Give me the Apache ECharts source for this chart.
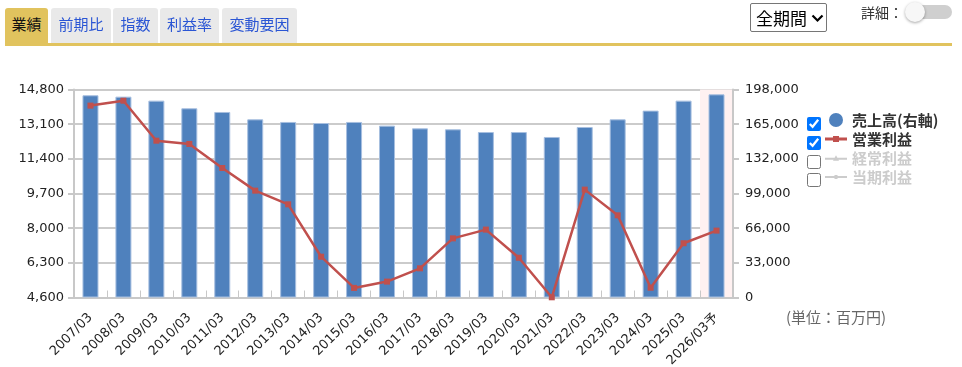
<!DOCTYPE html>
<html><head><meta charset="utf-8">
<script src="https://cdn.jsdelivr.net/npm/echarts@6/dist/echarts.min.js"></script>
<style>
body{margin:0;width:962px;height:367px;overflow:hidden;background:#fff;font-family:"Noto Sans CJK JP",sans-serif;position:relative}
#chart{position:absolute;left:0;top:0;width:962px;height:367px}
.tab{position:absolute;top:8px;height:35px;background:#e9e9e9;color:#2a55d4;font-size:15px;line-height:32px;text-align:center;border-radius:3px 3px 0 0;z-index:2}
.tab.active{background:#e1c35e;color:#111}
#uline{position:absolute;left:5px;top:43px;width:947px;height:3px;background:#e1c35e;z-index:2}
#sel{position:absolute;left:750px;top:3px;width:75px;height:27px;border:1px solid #767676;border-radius:2px;font-size:17px;line-height:27px;color:#000;z-index:2;box-sizing:content-box}
#sel span{position:absolute;left:5px;top:0}
#sel svg{position:absolute;left:60px;top:10px}
#det{position:absolute;left:861px;top:2px;font-size:14px;color:#333;z-index:2}
#track{position:absolute;left:910px;top:5px;width:42px;height:14px;border-radius:7px;background:#cfcfcf;z-index:2}
#knob{position:absolute;left:905px;top:2px;width:20px;height:20px;border-radius:50%;background:#f7f7f7;box-shadow:0 1px 3px rgba(0,0,0,.35);z-index:3}
.cb{position:absolute;left:807px;width:14px;height:14px;margin:0;z-index:3}
#unit{position:absolute;left:786px;top:306px;font-size:15px;color:#666;z-index:2}
</style>
</head><body>
<div id="chart"></div>
<div class="tab active" style="left:5px;width:43px">業績</div>
<div class="tab" style="left:51px;width:60px">前期比</div>
<div class="tab" style="left:113px;width:45px">指数</div>
<div class="tab" style="left:160px;width:59px">利益率</div>
<div class="tab" style="left:222px;width:75px">変動要因</div>
<div id="uline"></div>
<div id="sel"><span>全期間</span><svg width="13" height="9" viewBox="0 0 13 9"><path d="M1.5 1.5 L6.5 6.5 L11.5 1.5" fill="none" stroke="#000" stroke-width="2.2"/></svg></div>
<div id="det">詳細：</div>
<div id="track"></div><div id="knob"></div>
<input type="checkbox" class="cb" style="top:117px" checked>
<input type="checkbox" class="cb" style="top:136px" checked>
<input type="checkbox" class="cb" style="top:155px">
<input type="checkbox" class="cb" style="top:173px">
<div id="unit">(単位：百万円)</div>
<script>
const categories = ['2007/03','2008/03','2009/03','2010/03','2011/03','2012/03','2013/03','2014/03','2015/03','2016/03','2017/03','2018/03','2019/03','2020/03','2021/03','2022/03','2023/03','2024/03','2025/03','2026/03予'];
// 売上高 (right axis, 百万円)
const salesValues = [192500,191200,187400,180100,176600,169600,167100,166100,167100,163600,161000,160100,157500,157500,152800,162300,169600,177900,187400,193400];
// 営業利益 (left axis, 百万円)
const operatingProfit = [14010,14250,12290,12130,10950,9840,9170,6600,5070,5380,6030,7500,7930,6550,4610,9890,8630,5080,7260,7880];
const ordinaryProfit = [];
const netProfit = [];
const leftTicks = [4600,6300,8000,9700,11400,13100,14800];
const rightTicks = [0,33000,66000,99000,132000,165000,198000];

const fmt = v => v.toLocaleString('en-US');
const lastIdx = categories.length - 1;
const chart = echarts.init(document.getElementById('chart'));
chart.setOption({
  animation:false,
  grid:{left:74,right:229,top:89.5,bottom:69.5,containLabel:false,outerBoundsMode:'none'},
  legend:{
    orient:'vertical',left:820,top:107.5,itemWidth:22,itemHeight:14,itemGap:4,
    textStyle:{fontSize:15,fontWeight:'bold',color:'#333',fontFamily:'Noto Sans CJK JP'},
    inactiveColor:'#ccc',
    selected:{'経常利益':false,'当期利益':false},
    data:[
      {name:'売上高(右軸)',icon:'circle',itemStyle:{borderWidth:0}},
      {name:'営業利益',icon:'path://M0,3.5h22v3h-22z M8,2h6v6h-6z'},
      {name:'経常利益',icon:'path://M0,4h22v2h-22z M11,1.5l3,5.5h-6z'},
      {name:'当期利益',icon:'path://M0,4h22v2h-22z M9.5,3h3v4h-3z'}
    ]
  },
  xAxis:{
    type:'category',data:categories,
    axisLine:{lineStyle:{color:'#c8c8c8',width:2}},
    axisTick:{show:true,inside:true,length:7,interval:0,lineStyle:{color:'#c8c8c8'}},
    axisLabel:{rotate:45,interval:0,margin:18,fontSize:13,color:'#222',fontFamily:'DejaVu Sans, Noto Sans CJK JP'},
    splitArea:{show:true,interval:0,areaStyle:{color:categories.map((c,i)=> i===lastIdx ? '#fff1f1' : 'rgba(255,255,255,0)')}}
  },
  yAxis:[
    {type:'value',min:leftTicks[0],max:leftTicks[leftTicks.length-1],interval:leftTicks[1]-leftTicks[0],
     axisLine:{show:true,lineStyle:{color:'#c8c8c8',width:2}},
     axisTick:{show:true,length:6,lineStyle:{color:'#c8c8c8',width:2}},
     axisLabel:{fontSize:13,color:'#222',margin:10,fontFamily:'DejaVu Sans',formatter:fmt},
     splitLine:{show:true,lineStyle:{color:'#cbcbcb',width:2}}},
    {type:'value',min:rightTicks[0],max:rightTicks[rightTicks.length-1],interval:rightTicks[1]-rightTicks[0],
     axisLine:{show:true,lineStyle:{color:'#c8c8c8',width:2}},
     axisTick:{show:true,length:6,lineStyle:{color:'#c8c8c8',width:2}},
     axisLabel:{fontSize:13,color:'#222',margin:12,fontFamily:'DejaVu Sans',formatter:fmt},
     splitLine:{show:false}}
  ],
  series:[
    {name:'売上高(右軸)',type:'bar',yAxisIndex:1,data:salesValues,barWidth:16,
     itemStyle:{color:'#4f81bd',borderColor:'#a7bfe0',borderWidth:1}},
    {name:'営業利益',type:'line',yAxisIndex:0,data:operatingProfit,symbol:'rect',symbolSize:6,
     lineStyle:{color:'#c0504d',width:2.5},itemStyle:{color:'#c0504d'},z:5},
    {name:'経常利益',type:'line',yAxisIndex:0,data:ordinaryProfit,symbol:'triangle',symbolSize:6,
     lineStyle:{color:'#9bbb59',width:2.5},itemStyle:{color:'#9bbb59'}},
    {name:'当期利益',type:'line',yAxisIndex:0,data:netProfit,symbol:'circle',symbolSize:4,
     lineStyle:{color:'#8064a2',width:2.5},itemStyle:{color:'#8064a2'}}
  ]
});
</script>
</body></html>
